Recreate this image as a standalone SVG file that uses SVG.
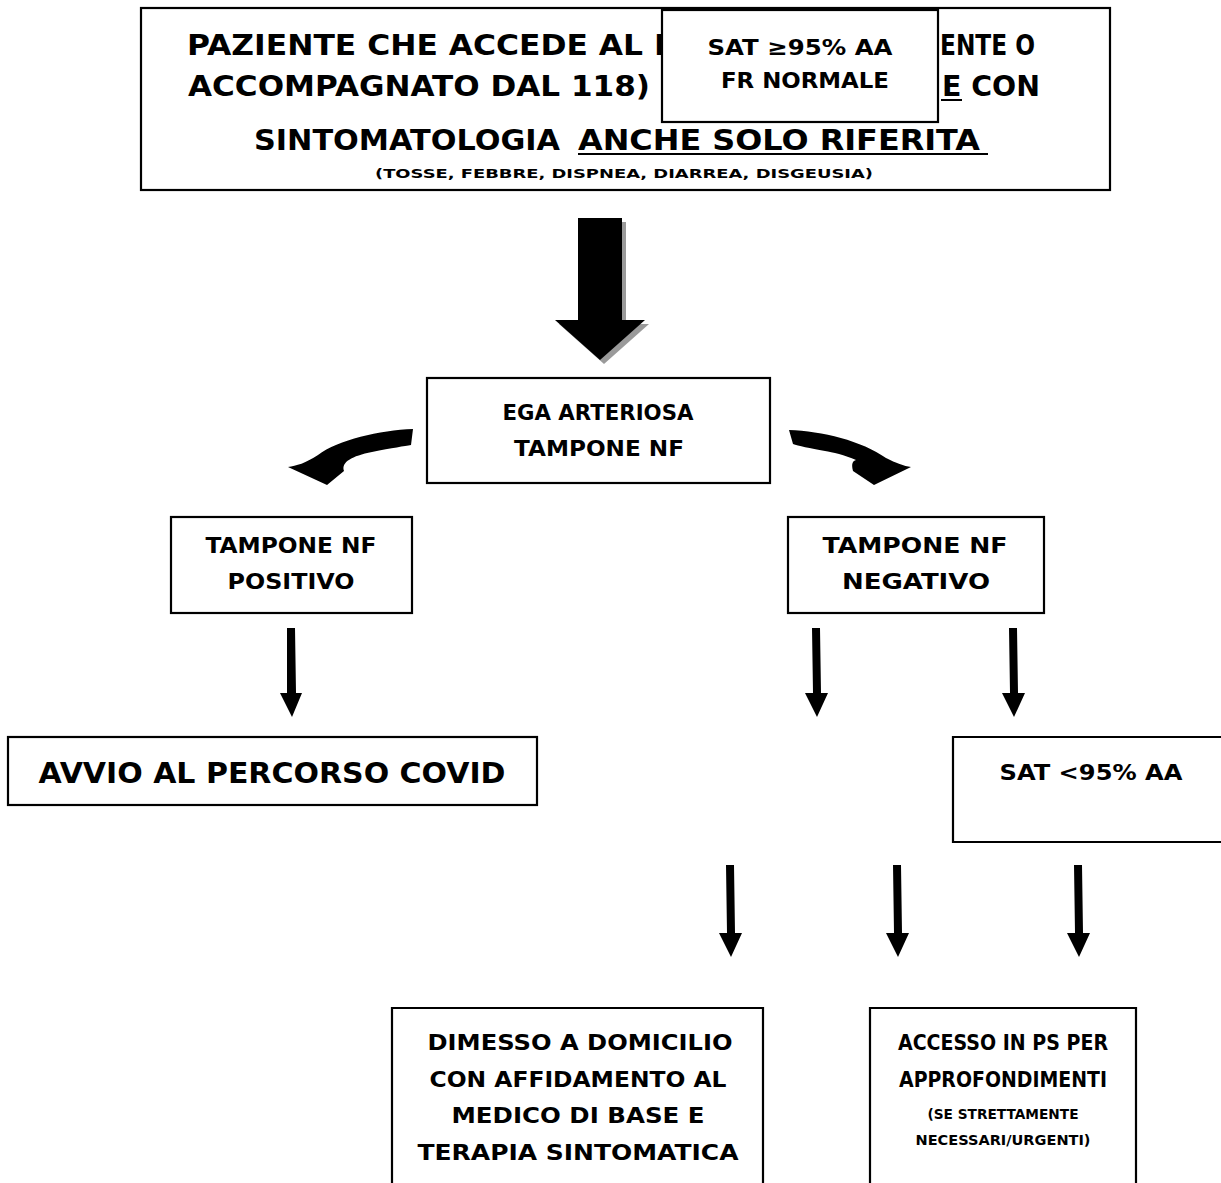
<svg xmlns="http://www.w3.org/2000/svg" width="1221" height="1183" viewBox="0 0 1221 1183">
<style>
.box{fill:#fff;stroke:#000;stroke-width:2.2}
.t{font-family:"DejaVu Sans","Liberation Sans",sans-serif;font-weight:bold;fill:#000}
.c{text-anchor:middle}
.arr{fill:#000}
</style>
<rect width="1221" height="1183" fill="#fff"/>
<g id="node-start">
<rect class="box" x="141" y="8" width="969" height="182"/>
<text class="t" x="187" y="55" font-size="28" textLength="490" lengthAdjust="spacingAndGlyphs">PAZIENTE CHE ACCEDE AL P</text>
<text class="t" x="940" y="55" font-size="28" textLength="95" lengthAdjust="spacingAndGlyphs">ENTE O</text>
<text class="t" x="188" y="96" font-size="28" textLength="462" lengthAdjust="spacingAndGlyphs">ACCOMPAGNATO DAL 118)</text>
<text class="t" x="942" y="96" font-size="28" textLength="98" lengthAdjust="spacingAndGlyphs">E CON</text>
<line x1="941" y1="100" x2="962" y2="100" stroke="#000" stroke-width="2"/>
<text class="t" x="254" y="150" font-size="28" textLength="306" lengthAdjust="spacingAndGlyphs">SINTOMATOLOGIA</text>
<text class="t" x="578" y="150" font-size="28" textLength="402" lengthAdjust="spacingAndGlyphs">ANCHE SOLO RIFERITA</text>
<line x1="578" y1="154" x2="988" y2="154" stroke="#000" stroke-width="2"/>
<text class="t" x="375" y="178" font-size="13" textLength="498" lengthAdjust="spacingAndGlyphs">(TOSSE, FEBBRE, DISPNEA, DIARREA, DISGEUSIA)</text>
</g>
<g id="node-sat-normal">
<rect class="box" x="662" y="10" width="276" height="112"/>
<text class="t c" x="800" y="55" font-size="22" textLength="185" lengthAdjust="spacingAndGlyphs">SAT ≥95% AA</text>
<text class="t c" x="805" y="88" font-size="22" textLength="168" lengthAdjust="spacingAndGlyphs">FR NORMALE</text>
</g>
<g id="node-ega">
<rect class="box" x="427" y="378" width="343" height="105"/>
<text class="t c" x="598" y="420" font-size="21" textLength="191" lengthAdjust="spacingAndGlyphs">EGA ARTERIOSA</text>
<text class="t c" x="599" y="456" font-size="21" textLength="170" lengthAdjust="spacingAndGlyphs">TAMPONE NF</text>
</g>
<g id="node-positivo">
<rect class="box" x="171" y="517" width="241" height="96"/>
<text class="t c" x="291" y="553" font-size="21" textLength="171" lengthAdjust="spacingAndGlyphs">TAMPONE NF</text>
<text class="t c" x="291" y="589" font-size="21" textLength="127" lengthAdjust="spacingAndGlyphs">POSITIVO</text>
</g>
<g id="node-negativo">
<rect class="box" x="788" y="517" width="256" height="96"/>
<text class="t c" x="915" y="553" font-size="21" textLength="185" lengthAdjust="spacingAndGlyphs">TAMPONE NF</text>
<text class="t c" x="916" y="589" font-size="21" textLength="148" lengthAdjust="spacingAndGlyphs">NEGATIVO</text>
</g>
<g id="node-covid">
<rect class="box" x="8" y="737" width="529" height="68"/>
<text class="t c" x="272" y="783" font-size="28" textLength="467" lengthAdjust="spacingAndGlyphs">AVVIO AL PERCORSO COVID</text>
</g>
<g id="node-sat-low">
<path d="M1222,737 H953 V842 H1222" fill="#fff" stroke="#000" stroke-width="2.2"/>
<text class="t c" x="1091" y="780" font-size="21" textLength="183" lengthAdjust="spacingAndGlyphs">SAT &lt;95% AA</text>
</g>
<g id="node-dimesso">
<path d="M392,1184 V1008 H763 V1184" fill="#fff" stroke="#000" stroke-width="2.2"/>
<text class="t c" x="580" y="1050" font-size="21" textLength="305" lengthAdjust="spacingAndGlyphs">DIMESSO A DOMICILIO</text>
<text class="t c" x="578" y="1087" font-size="21" textLength="297" lengthAdjust="spacingAndGlyphs">CON AFFIDAMENTO AL</text>
<text class="t c" x="578" y="1123" font-size="21" textLength="253" lengthAdjust="spacingAndGlyphs">MEDICO DI BASE E</text>
<text class="t c" x="578" y="1160" font-size="21" textLength="321" lengthAdjust="spacingAndGlyphs">TERAPIA SINTOMATICA</text>
</g>
<g id="node-accesso">
<path d="M870,1184 V1008 H1136 V1184" fill="#fff" stroke="#000" stroke-width="2.2"/>
<text class="t c" x="1003" y="1050" font-size="21" textLength="210" lengthAdjust="spacingAndGlyphs">ACCESSO IN PS PER</text>
<text class="t c" x="1003" y="1087" font-size="21" textLength="208" lengthAdjust="spacingAndGlyphs">APPROFONDIMENTI</text>
<text class="t c" x="1003" y="1119" font-size="14" textLength="151" lengthAdjust="spacingAndGlyphs">(SE STRETTAMENTE</text>
<text class="t c" x="1003" y="1145" font-size="14" textLength="175" lengthAdjust="spacingAndGlyphs">NECESSARI/URGENTI)</text>
</g>
<g id="connectors">
<polygon points="582,222 626,222 626,324 649,324 604,364 559,324 582,324" fill="#9a9a9a"/>
<polygon class="arr" points="578,218 622,218 622,320 645,320 600,360 555,320 578,320"/>
<path class="arr" d="M413,429 C380,430 338,440 318,455 C306,463 296,466 288,467 L327,485 L344,471 C341,462 352,456 372,452 C392,448 405,446 411,445 Z"/>
<path class="arr" d="M789,430 C822,431 862,441 886,458 C896,463 904,466 911,467 L874,485 L853,471 C851,463 853,461 856,460 C845,455 832,452 825,451 C810,448 798,446 793,444 Z"/>
<polygon class="arr" points="287,628 295,628 296,693 302,693 292,717 280,693 287,693"/>
<polygon class="arr" points="812,628 820,628 821,693 828,693 817,717 805,693 813,693"/>
<polygon class="arr" points="1009,628 1017,628 1018,693 1025,693 1014,717 1002,693 1010,693"/>
<polygon class="arr" points="726,865 734,865 735,933 742,933 731,957 719,933 727,933"/>
<polygon class="arr" points="893,865 901,865 902,933 909,933 898,957 886,933 894,933"/>
<polygon class="arr" points="1074,865 1082,865 1083,933 1090,933 1079,957 1067,933 1075,933"/>
</g>
</svg>
